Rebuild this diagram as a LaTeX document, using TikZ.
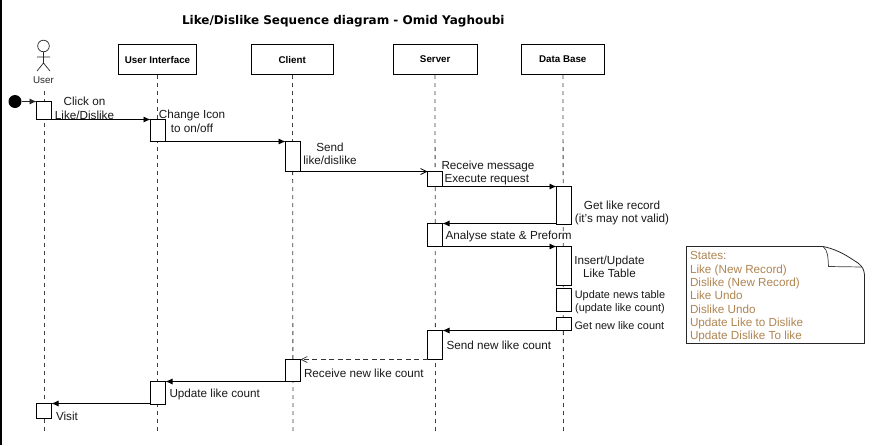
\documentclass[tikz,border=0pt]{standalone}
\usepackage{fontspec}
\setmainfont{Liberation Sans}
\newfontfamily\titlefont{DejaVu Sans}
\definecolor{notebrown}{HTML}{B08552}
\tikzset{
  x=1pt,y=-1pt,
  every node/.style={inner sep=0pt,outer sep=0pt},
  head/.style={draw=black,line width=0.8pt,minimum height=30pt,font=\fontsize{9.8}{11}\selectfont\bfseries,anchor=north west},
  life/.style={draw=black!75,line width=0.8pt,dash pattern=on 4pt off 4pt},
  act/.style={draw=black,fill=white,line width=0.8pt,minimum width=15pt,anchor=north west},
  msg/.style={draw=black,line width=0.8pt,-{Latex[length=7pt,width=6pt]}},
  ret/.style={draw=black!80,line width=0.7pt,dash pattern=on 5pt off 3.5pt,-{Straight Barb[length=6pt,width=6pt]}},
  opn/.style={draw=black,line width=0.8pt,-{Straight Barb[length=6pt,width=6pt]}},
  lab/.style={font=\fontsize{11.7}{13.4}\selectfont,align=center,text=black!90,yshift=-1pt},
  small/.style={font=\fontsize{10.9}{12.8}\selectfont,align=center,text=black!90,yshift=-0.5pt},
}
\usetikzlibrary{arrows.meta}
\begin{document}
\begin{tikzpicture}
\useasboundingbox (0,0) rectangle (873,445);
\fill[white] (0,0) rectangle (873,445);
\fill[black] (0,0) rectangle (2,445);
\node[font=\titlefont\fontsize{12}{14}\selectfont\bfseries,anchor=west] (title) at (182,21) {Like/Dislike Sequence diagram - Omid Yaghoubi};
% headers
\node[head,minimum width=78pt] (ui) at (118.5,44.5) {User Interface};
\node[head,minimum width=82.5pt] (cl) at (251,44.5) {Client};
\node[head,minimum width=83.5pt] (sv) at (393.5,44.5) {Server};
\node[head,minimum width=82.5pt] (db) at (521.5,44.5) {Data Base};
% actor
\draw[line width=0.7pt,black!85] (43.5,46) circle (5.8);
\draw[line width=0.7pt,black!85] (43.5,52) -- (43.5,63) (37,57) -- (50,57) (37,71) -- (43.5,63) -- (50,71);
\node[font=\fontsize{9.8}{11}\selectfont,text=black!85] (user) at (43.5,80) {User};
% lifelines
\coordinate (u0) at (44,91); \coordinate (u1) at (44,433);
\coordinate (i0) at (157,75); \coordinate (i1) at (157,433);
\coordinate (c0) at (292.5,75); \coordinate (c1) at (293,433);
\coordinate (s0) at (435,75); \coordinate (s1) at (435.5,433);
\coordinate (d0) at (563,75); \coordinate (d1) at (563.5,433);
\draw[life] (u0) -- (u1);
\draw[life] (i0) -- (i1);
\draw[life] (c0) -- (c1);
\draw[life] (s0) -- (s1);
\draw[life] (d0) -- (d1);
% activations
\node[act,minimum height=18.5pt] (a1) at (36.5,101) {};
\node[act,minimum height=22pt] (a2) at (150.5,119.5) {};
\node[act,minimum height=30pt] (a3) at (285.5,141.5) {};
\node[act,minimum height=15pt] (a4) at (427.5,171.5) {};
\node[act,minimum height=38pt] (a5) at (556.5,186.5) {};
\node[act,minimum height=23pt] (a6) at (427.5,223.5) {};
\node[act,minimum height=39pt] (a7) at (556.5,246.5) {};
\node[act,minimum height=23pt] (a8) at (556.5,288.5) {};
\node[act,minimum height=13pt] (a9) at (556.5,317.5) {};
\node[act,minimum height=29pt] (a10) at (427.5,330.5) {};
\node[act,minimum height=22pt] (a11) at (285.5,359.5) {};
\node[act,minimum height=23pt] (a12) at (150.5,381.5) {};
\node[act,minimum height=15pt] (a13) at (36.5,403.5) {};
% start
\node[circle,fill=black,minimum size=13pt] (st) at (15,101.5) {};
\draw[msg,draw=black!85] (st.east) -- (a1.west |- st.east);
% messages
\draw[msg] (a1.south east) -- (a2.north west);
\draw[msg] (a2.south east) -- (a3.north west);
\draw[opn] (a3.south east) -- (a4.north west);
\draw[msg] (a4.south east) -- (a5.north west);
\draw[msg] (a5.west |- a6.north) -- (a6.north east);
\draw[msg] (a6.south east) -- (a7.north west);
\draw[msg] (a9.south west) -- (a10.north east);
\draw[ret] (a10.south west) -- (a11.north east);
\draw[msg] (a11.south west) -- (a12.north east);
\draw[msg] (a12.west |- a13.north) -- (a13.north east);
% labels
\node[lab] (t1) at (84.5,107.5) {Click on\\Like/Dislike};
\node[lab] (t2) at (192,120.5) {Change Icon\\to on/off};
\node[lab] (t3) at (330,153) {Send\\like/dislike};
\node[lab,anchor=west] (t4a) at (441.5,165.5) {Receive message};
\node[lab,anchor=west] (t4b) at (444.5,178.5) {Execute request};
\node[lab] (t5) at (622,212) {Get like record\\(it’s may not valid)};
\node[lab,anchor=west] (t6) at (445.5,235.5) {Analyse state \& Preform};
\node[lab] (t7) at (609.5,266) {Insert/Update\\Like Table};
\node[small] (t8) at (620,301.5) {Update news table\\(update like count)};
\node[small,anchor=west] (t9) at (574.5,325) {Get new like count};
\node[lab,anchor=west] (t10) at (446.5,344) {Send new like count};
\node[lab,anchor=west] (t11) at (304,372) {Receive new like count};
\node[lab,anchor=west] (t12) at (169.5,393.5) {Update like count};
\node[lab,anchor=west] (t13) at (56,415.5) {Visit};
% note
\draw[line width=0.8pt,black!85,fill=white] (686.5,246.5) -- (823,246.5) .. controls (840,250) and (850,258) .. (858,263) .. controls (863,267) and (864,270) .. (864.5,275) -- (864.5,343.5) -- (686.5,343.5) -- cycle;
\draw[line width=0.7pt,black!75] (823,246.5) .. controls (828,250) and (828,258) .. (828.5,266.5) -- (862,267);
\node[font=\fontsize{11.7}{13.35}\selectfont,text=notebrown,align=left,anchor=north west] (nt) at (690,251.5) {States:\\Like (New Record)\\Dislike (New Record)\\Like Undo\\Dislike Undo\\Update Like to Dislike\\Update Dislike To like};
\end{tikzpicture}
\end{document}
